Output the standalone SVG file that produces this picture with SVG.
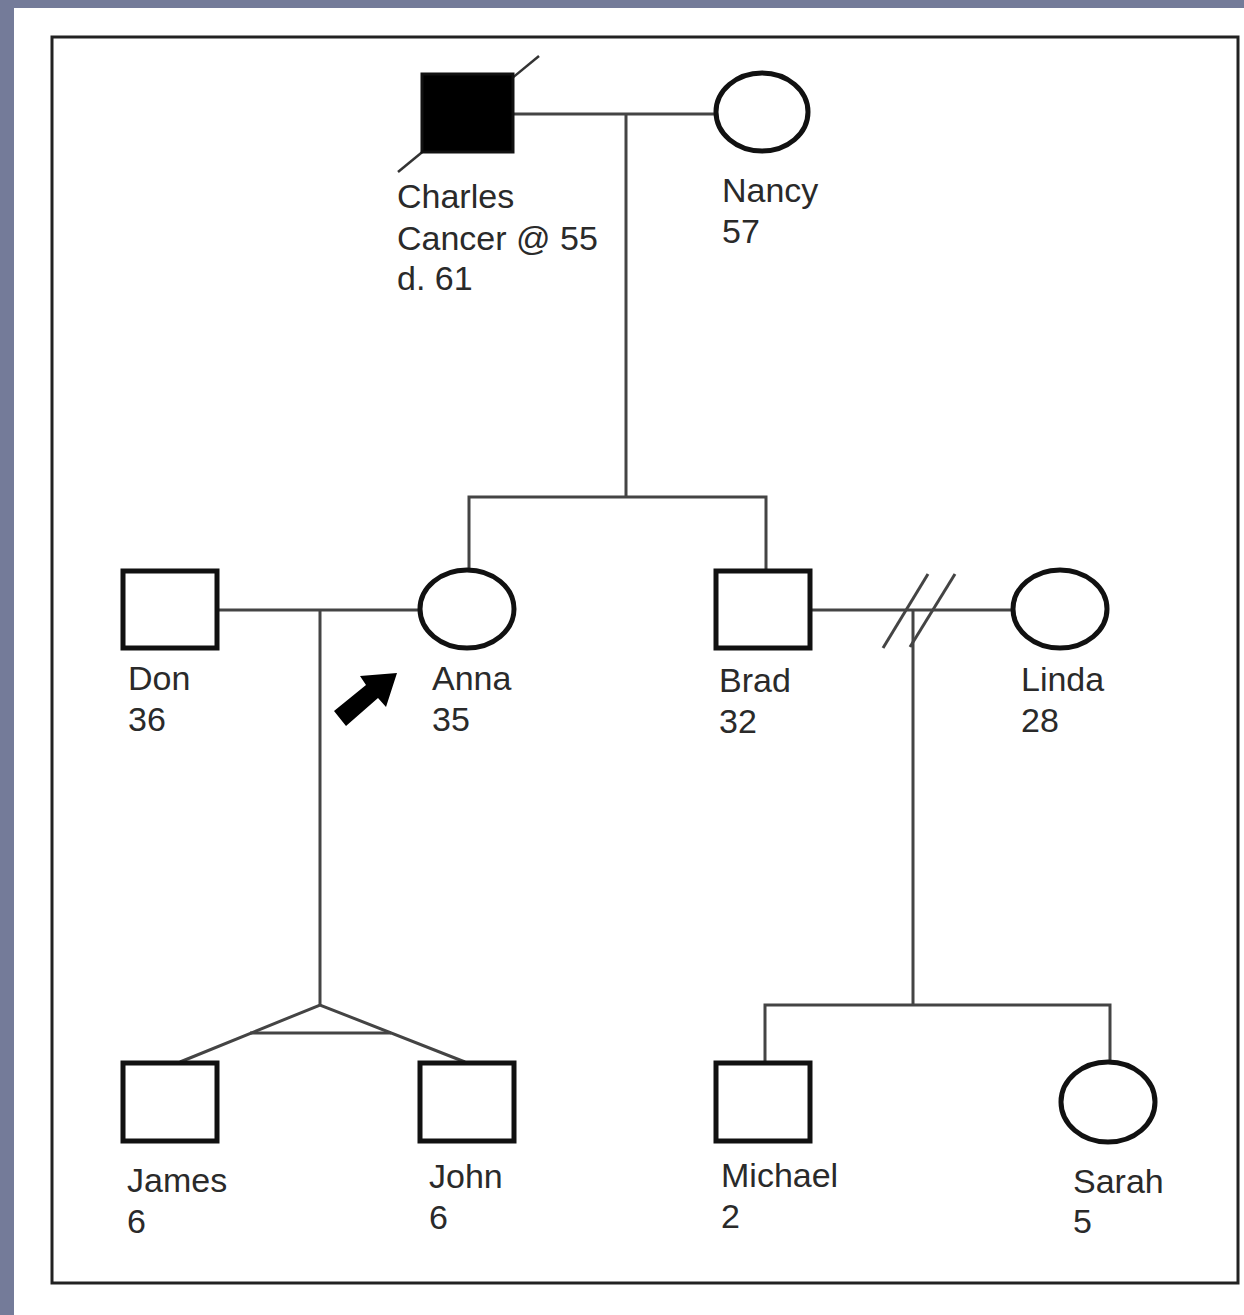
<svg xmlns="http://www.w3.org/2000/svg" width="1244" height="1315" viewBox="0 0 1244 1315">
<style>
.sym{fill:#fff;stroke:#111;stroke-width:5}
.aff{fill:#000;stroke:#111;stroke-width:3}
.con{fill:none;stroke:#444;stroke-width:3}
.lbl{font-family:"Liberation Sans",Arial,sans-serif;font-size:34px;fill:#2a2a2a}
</style>
<rect x="0" y="0" width="1244" height="1315" fill="#747b99"/>
<rect x="14" y="8" width="1230" height="1307" fill="#fff"/>
<rect x="52" y="37" width="1186" height="1246" fill="#fff" stroke="#222" stroke-width="3"/>
<g id="connectors">
<line class="con" x1="513" y1="114" x2="715" y2="114"/>
<line class="con" x1="626" y1="114" x2="626" y2="497"/>
<polyline class="con" points="469,571 469,497 766,497 766,571"/>
<line class="con" x1="217" y1="610" x2="420" y2="610"/>
<line class="con" x1="320" y1="610" x2="320" y2="1005"/>
<polyline class="con" points="180,1062 320,1005 465,1062"/>
<line class="con" x1="250" y1="1033" x2="391" y2="1033"/>
<line class="con" x1="810" y1="610" x2="1013" y2="610"/>
<line class="con" x1="883" y1="648" x2="928" y2="574"/>
<line class="con" x1="910" y1="647" x2="955" y2="574"/>
<line class="con" x1="913" y1="610" x2="913" y2="1005"/>
<polyline class="con" points="765,1063 765,1005 1110,1005 1110,1062"/>
</g>
<g id="charles">
<line x1="398" y1="172" x2="539" y2="56" stroke="#333" stroke-width="2.5"/>
<rect class="aff" x="422" y="74" width="91" height="78"/>
<text class="lbl" x="397" y="208">Charles</text>
<text class="lbl" x="397" y="250">Cancer @ 55</text>
<text class="lbl" x="397" y="290">d. 61</text>
</g>
<g id="nancy">
<ellipse class="sym" cx="762" cy="112" rx="46" ry="39"/>
<text class="lbl" x="722" y="202">Nancy</text>
<text class="lbl" x="722" y="243">57</text>
</g>
<g id="don">
<rect class="sym" x="123" y="571" width="94" height="77"/>
<text class="lbl" x="128" y="690">Don</text>
<text class="lbl" x="128" y="731">36</text>
</g>
<g id="anna">
<ellipse class="sym" cx="467" cy="609" rx="47" ry="39"/>
<polygon points="397,673 386,707 378,698 346,726 334,711 366,685 360,676" fill="#000"/>
<text class="lbl" x="432" y="690">Anna</text>
<text class="lbl" x="432" y="731">35</text>
</g>
<g id="brad">
<rect class="sym" x="716" y="571" width="94" height="77"/>
<text class="lbl" x="719" y="692">Brad</text>
<text class="lbl" x="719" y="733">32</text>
</g>
<g id="linda">
<ellipse class="sym" cx="1060" cy="609" rx="47" ry="39"/>
<text class="lbl" x="1021" y="691">Linda</text>
<text class="lbl" x="1021" y="732">28</text>
</g>
<g id="james">
<rect class="sym" x="123" y="1063" width="94" height="78"/>
<text class="lbl" x="127" y="1192">James</text>
<text class="lbl" x="127" y="1233">6</text>
</g>
<g id="john">
<rect class="sym" x="420" y="1063" width="94" height="78"/>
<text class="lbl" x="429" y="1188">John</text>
<text class="lbl" x="429" y="1229">6</text>
</g>
<g id="michael">
<rect class="sym" x="716" y="1063" width="94" height="78"/>
<text class="lbl" x="721" y="1187">Michael</text>
<text class="lbl" x="721" y="1228">2</text>
</g>
<g id="sarah">
<ellipse class="sym" cx="1108" cy="1102" rx="47" ry="40"/>
<text class="lbl" x="1073" y="1193">Sarah</text>
<text class="lbl" x="1073" y="1233">5</text>
</g>
</svg>
